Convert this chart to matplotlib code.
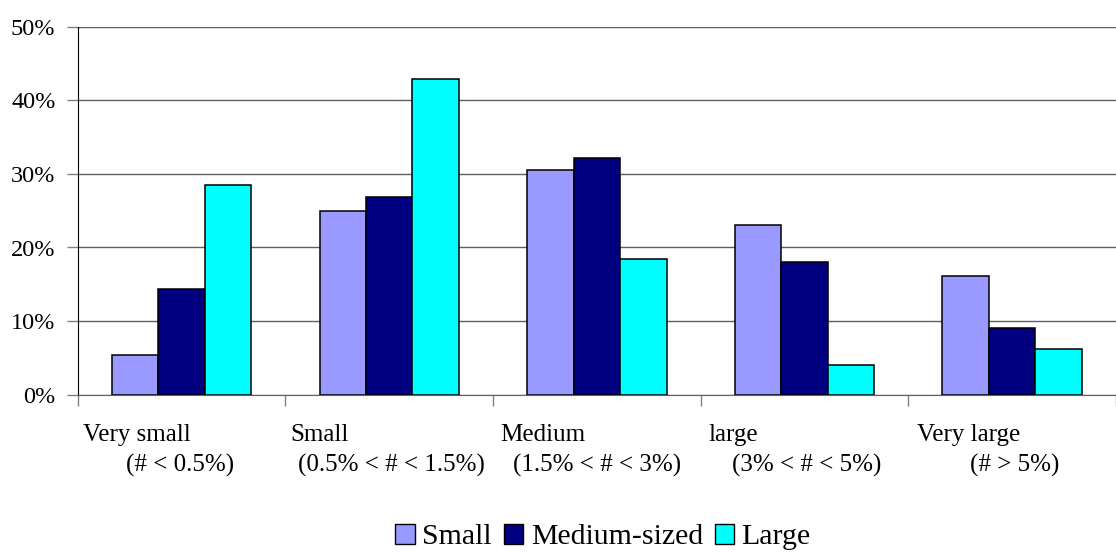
import numpy as np
import matplotlib
matplotlib.use("Agg")
import matplotlib.pyplot as plt
from matplotlib.ticker import PercentFormatter
from matplotlib.patches import Patch

plt.rcParams["font.family"] = "serif"
plt.rcParams["font.serif"] = ["Liberation Serif", "DejaVu Serif"]

categories = ["Very small", "Small", "Medium", "large", "Very large"]
ranges = ["(# < 0.5%)", "(0.5% < # < 1.5%)", "(1.5% < # < 3%)", "(3% < # < 5%)", "(# > 5%)"]
series = ["Small", "Medium-sized", "Large"]
small = [5.4, 25.0, 30.5, 23.1, 16.1]
medium_sized = [14.4, 26.9, 32.1, 18.0, 9.0]
large = [28.5, 42.9, 18.5, 4.1, 6.2]
yticks = [0, 10, 20, 30, 40, 50]

colors = ["#9999FF", "#000080", "#00FFFF"]

# label offsets from the left tick of each category, in pixels (Excel padded these with spaces)
line1_px = [5, 5, 7, 8, 9]
line2_px = [49, 13, 20, 32, 62]

W, H = 1116, 553
fig = plt.figure(figsize=(W / 100, H / 100), dpi=100)
cat_px = 209.6
left_px = 77.7
ax = fig.add_axes([left_px / W, 1 - 394.7 / H, 1 - left_px / W, (394.7 - 26.7) / H])

x = np.arange(len(categories))
bw = 0.2237
for k, (vals, c, lab) in enumerate(zip([small, medium_sized, large], colors, series)):
    ax.bar(x + (k - 1) * bw, vals, width=bw, color=c, edgecolor="black", linewidth=1.1, label=lab, zorder=3)

ax.set_xlim(-0.5, -0.5 + (W - left_px) / cat_px)
ax.set_ylim(0, 50)
ax.set_yticks(yticks)
ax.yaxis.set_major_formatter(PercentFormatter(decimals=0))
ax.set_xticks(np.arange(len(categories) + 1) - 0.5)
ax.set_xticklabels([])
ax.grid(axis="y", color="#606060", linewidth=1.0, zorder=0)
ax.tick_params(axis="y", length=8, width=1, color="#808080", labelsize=17.5, pad=8)
ax.tick_params(axis="x", length=8, width=1, color="#808080")
for s in ["top", "right"]:
    ax.spines[s].set_visible(False)
ax.spines["left"].set_color("black")
ax.spines["bottom"].set_color("#606060")

for i, (c, r) in enumerate(zip(categories, ranges)):
    x0 = i - 0.5
    ax.text(x0 + line1_px[i] / cat_px, -0.127, c, transform=ax.get_xaxis_transform(),
            ha="left", va="baseline", fontsize=18)
    ax.text(x0 + line2_px[i] / cat_px, -0.21, r, transform=ax.get_xaxis_transform(),
            ha="left", va="baseline", fontsize=18)

handles = [Patch(facecolor=c, edgecolor="black", linewidth=1.0, label=s) for c, s in zip(colors, series)]
fig.legend(handles=handles, loc="center", bbox_to_anchor=(603 / W, 1 - 537 / H), ncol=3, frameon=False,
           fontsize=21.5, handlelength=0.65, handleheight=0.65, handletextpad=0.25, columnspacing=0.4,
           borderpad=0, borderaxespad=0)

fig.savefig("out.png", dpi=100)
